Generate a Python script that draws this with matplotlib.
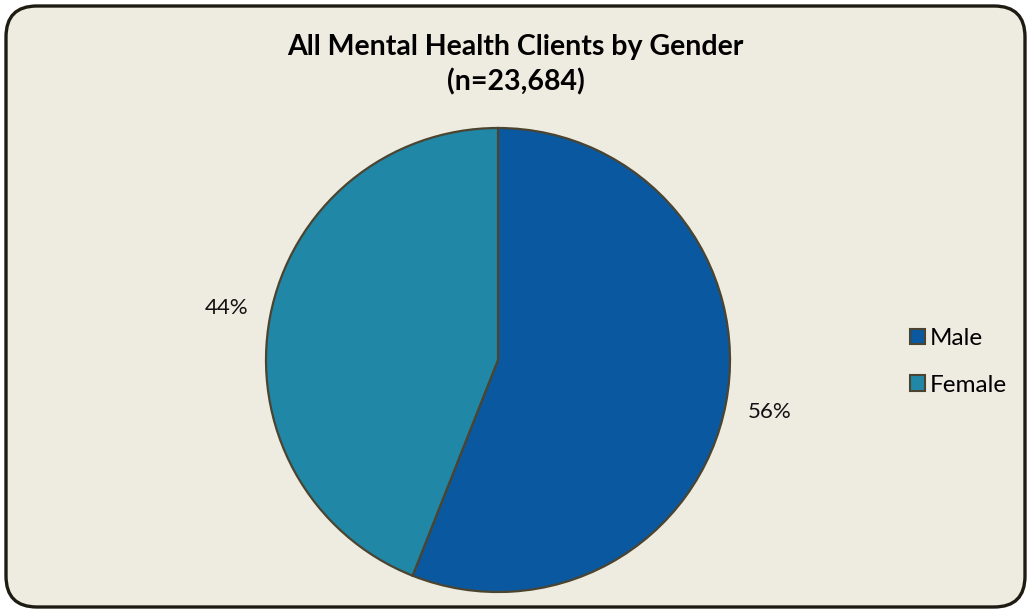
import matplotlib
matplotlib.use('Agg')
import matplotlib.pyplot as plt
from matplotlib.patches import FancyBboxPatch, Patch

plt.rcParams['font.family'] = ['Lato', 'DejaVu Sans']

labels = ['Male', 'Female']
shares = [56, 44]
colors = ['#0A58A0', '#2187A6']
edge = '#4A4430'
bg = '#EEEBE0'

W, H = 1031, 613
fig = plt.figure(figsize=(W / 100, H / 100), dpi=100, facecolor='white')

# rounded chart frame, behind everything
frame = FancyBboxPatch((6 / W, 6 / H), (W - 12) / W, (H - 12) / H,
                       boxstyle='round,pad=0,rounding_size=0.03',
                       transform=fig.transFigure, facecolor=bg,
                       edgecolor='#1E1B12', linewidth=2.4, zorder=-10,
                       mutation_aspect=W / H)
fig.patches.append(frame)

cx, cy, r = 498, 360, 232
ax = fig.add_axes([(cx - r) / W, (H - cy - r) / H, 2 * r / W, 2 * r / H])
ax.set_facecolor('none')
ax.set_zorder(5)
wedges, texts, autotexts = ax.pie(
    shares, colors=colors, startangle=90, counterclock=False,
    autopct='%1.0f%%', pctdistance=1.19,
    wedgeprops=dict(edgecolor=edge, linewidth=1.6),
    textprops=dict(fontsize=16, color='#111111'))
ax.set_xlim(-1, 1)
ax.set_ylim(-1, 1)
ax.set_aspect('equal')

fig.text(0.5, 1 - 47 / H, 'All Mental Health Clients by Gender',
         ha='center', va='center', fontsize=20.5, fontweight='bold')
fig.text(0.5, 1 - 82 / H, '(n=23,684)',
         ha='center', va='center', fontsize=20.5, fontweight='bold')

handles = [Patch(facecolor=c, edgecolor=edge, linewidth=1.5, label=l)
           for c, l in zip(colors, labels)]
fig.legend(handles=handles, loc='center left',
           bbox_to_anchor=(898 / W, 1 - 362 / H), frameon=False,
           fontsize=17.5, handlelength=0.6, handleheight=0.6,
           handletextpad=0.2, labelspacing=1.05, borderpad=0)

fig.savefig('out.png', dpi=100, facecolor='white')
